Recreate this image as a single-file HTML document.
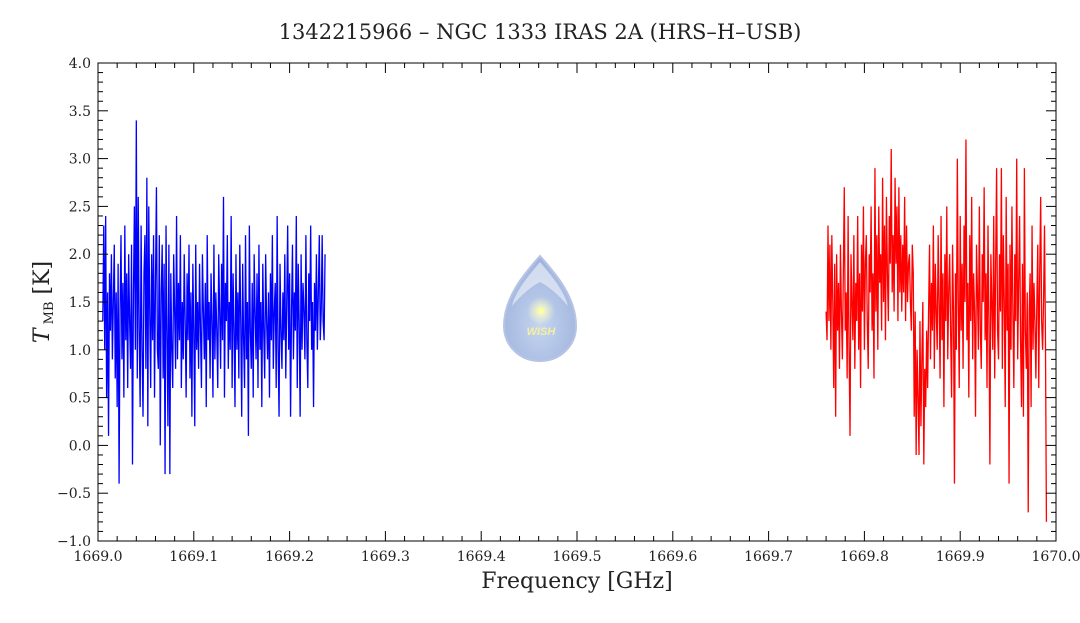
<!DOCTYPE html>
<html><head><meta charset="utf-8"><style>
body{margin:0;background:#fff;}
svg text{font-family:"DejaVu Serif","Liberation Serif",serif;fill:#222;}
</style></head><body>
<svg id="chart" width="1080" height="618" viewBox="0 0 1080 618">
<defs>
<radialGradient id="dg" cx="0.5" cy="0.65" r="0.6">
<stop offset="0" stop-color="#c5d5f0"/><stop offset="1" stop-color="#9fb3dc"/></radialGradient>
<radialGradient id="sg" cx="0.5" cy="0.5" r="0.5">
<stop offset="0" stop-color="#ffffc0"/><stop offset="1" stop-color="#ffffc0" stop-opacity="0"/></radialGradient>
</defs>
<text x="540" y="39" text-anchor="middle" font-size="21">1342215966 – NGC 1333 IRAS 2A (HRS–H–USB)</text>
<g>
<path d="M540 256 C526 272 504 296 504 326 C504 346 520 361 540 361 C560 361 576 346 576 326 C576 296 554 272 540 256 Z" fill="url(#dg)" stroke="#b8c4e4" stroke-width="2"/>
<path d="M540 262 C530 274 516 290 512 306 C522 294 532 286 540 282 C548 286 558 294 568 306 C564 290 550 274 540 262Z" fill="#ffffff" opacity="0.5"/>
<circle cx="541" cy="311" r="14" fill="url(#sg)"/>
<text x="541" y="316" text-anchor="middle" font-size="14" fill="#ffff90" style="fill:#ffff90">✶</text>
<text x="541" y="335" text-anchor="middle" font-size="11" font-style="italic" font-weight="bold" style="fill:#f4f0a0;font-family:'Liberation Sans',sans-serif">WISH</text>
</g>
<g id="marks"></g>
<rect x="98" y="63" width="958" height="478" fill="none" stroke="#000" stroke-width="1"/>
<g id="axes"></g>
<text x="577" y="588" text-anchor="middle" font-size="22">Frequency [GHz]</text>
<text transform="translate(49,302) rotate(-90)" text-anchor="middle" font-size="22"><tspan font-style="italic">T</tspan><tspan font-size="13" dy="4"> MB</tspan><tspan dy="-4"> [K]</tspan></text>
</svg>
<script>
const xTicks=["1669.0","1669.1","1669.2","1669.3","1669.4","1669.5","1669.6","1669.7","1669.8","1669.9","1670.0"];
const yTicks=["−1.0","−0.5","0.0","0.5","1.0","1.5","2.0","2.5","3.0","3.5","4.0"];
const blueStart=1669.005, blueStep=0.001;
const blueValues=[1.3,2.3,1.0,2.4,0.5,1.6,0.1,1.8,1.2,2.0,0.9,1.5,2.1,0.7,1.6,0.4,1.9,-0.4,1.4,2.2,
0.9,1.7,0.5,2.3,1.1,1.8,0.6,2.0,1.3,0.8,2.1,-0.2,1.6,2.5,1.0,3.4,0.7,2.6,1.2,0.4,
2.3,1.0,0.3,1.8,2.2,0.8,2.8,0.2,2.5,1.4,0.6,2.0,1.1,2.2,0.5,1.7,2.7,1.0,0.8,2.2,
0.0,1.6,2.1,0.7,1.9,-0.3,2.3,1.2,0.2,2.1,-0.3,1.8,1.0,0.6,2.0,1.4,0.8,2.4,0.9,1.7,
1.1,2.2,0.6,1.5,0.9,2.0,1.3,0.5,1.8,1.1,2.1,0.7,1.6,0.3,1.9,1.2,0.2,2.1,1.0,1.5,
0.8,1.9,1.2,0.6,2.0,1.4,0.9,1.7,0.4,2.2,1.1,1.5,0.7,1.8,1.3,0.5,2.1,0.9,1.6,1.2,
0.6,2.0,1.4,0.8,1.9,1.1,2.6,0.5,1.7,1.3,2.2,0.8,1.5,1.0,2.4,0.6,1.8,1.2,0.4,2.0,
1.0,1.6,0.7,2.1,1.3,0.3,1.9,1.1,0.6,2.2,0.9,1.5,0.1,2.3,1.2,0.8,1.7,0.5,2.0,1.4,
0.9,1.8,0.6,2.1,1.0,1.5,0.4,1.9,1.2,0.7,2.0,1.3,0.9,1.6,0.5,1.8,1.1,2.2,0.8,1.4,
1.7,0.6,2.4,1.0,0.3,1.9,1.2,0.8,1.6,1.1,2.0,0.7,1.5,2.3,1.0,1.8,0.3,1.4,2.1,0.9,
1.6,1.2,2.4,0.6,1.9,1.3,0.3,2.0,1.0,1.7,1.4,0.9,2.2,1.1,0.6,1.8,1.3,2.3,1.0,1.5,
0.4,1.7,1.2,2.0,1.0,1.6,2.2,1.1,1.4,2.2,1.3,1.1,2.0];
const redStart=1669.760, redStep=0.001;
const redValues=[1.4,1.1,2.3,1.3,2.1,1.0,2.2,1.5,0.6,1.9,0.3,2.0,1.2,1.7,0.8,2.1,1.4,0.9,1.8,2.7,
1.2,1.6,0.7,2.4,1.0,0.1,2.0,1.5,1.1,2.2,0.8,1.7,1.3,2.4,1.0,1.8,0.6,2.1,1.4,2.5,
1.0,1.9,2.2,1.3,0.8,2.0,1.6,2.5,1.2,1.8,0.7,2.9,1.4,2.2,1.0,2.5,1.7,2.0,1.2,2.8,
1.5,2.3,1.1,2.6,1.8,1.3,2.4,1.9,3.1,1.6,2.2,1.4,2.8,1.9,2.5,1.3,2.7,1.6,2.2,1.4,
2.1,1.6,2.6,1.3,2.3,1.5,1.9,
2.0,1.5,1.2,2.1,1.8,0.3,1.4,-0.1,1.0,0.5,-0.1,1.3,0.2,0.9,1.5,-0.2,0.8,0.4,1.2,0.6,
1.4,2.1,0.9,1.7,1.2,2.3,0.8,1.9,1.4,1.0,2.2,1.5,0.7,2.4,1.1,1.8,0.4,2.0,1.3,2.5,
0.9,1.6,2.0,1.2,0.5,2.1,1.4,-0.4,1.8,1.0,3.0,1.5,0.6,2.4,1.2,1.9,0.8,2.3,1.5,3.2,
1.1,1.7,0.5,2.2,1.3,2.6,0.9,1.8,1.4,0.3,2.1,1.6,1.0,2.5,1.2,0.8,2.0,1.5,2.7,1.1,
1.8,0.6,2.3,1.3,-0.2,2.0,1.5,1.0,2.4,0.7,1.9,2.9,1.2,0.9,2.0,1.4,2.9,0.8,2.2,1.5,
0.4,2.6,1.2,1.9,-0.4,2.1,1.0,2.5,1.4,0.6,2.0,1.3,3.0,0.9,1.7,2.4,1.1,0.4,1.9,0.3,
2.9,1.2,0.8,1.6,-0.7,1.4,1.8,0.4,2.3,1.0,1.7,1.3,0.7,1.5,2.1,0.6,1.8,2.6,1.3,1.0,
1.5,2.3,1.1,-0.8];

const NS="http://www.w3.org/2000/svg";
const X0=98,X1=1056,Y0=541,Y1=63;
const xMin=1669.0,xMax=1670.0,yMin=-1.0,yMax=4.0;
function sx(v){return X0+(v-xMin)/(xMax-xMin)*(X1-X0);}
function sy(v){return Y0-(v-yMin)/(yMax-yMin)*(Y0-Y1);}
function mk(t,a,p){const e=document.createElementNS(NS,t);for(const k in a)e.setAttribute(k,a[k]);p.appendChild(e);return e;}
const marks=document.getElementById('marks'),axes=document.getElementById('axes');
function series(start,step,vals,color,name){
  let d="";
  vals.forEach((v,i)=>{d+=(i?"L":"M")+sx(start+i*step).toFixed(2)+" "+sy(v).toFixed(2);});
  const p=mk('path',{d:d,fill:'none',stroke:color,'stroke-width':1.3},marks);
  
  
}
series(blueStart,blueStep,blueValues,'#0000ff','series-lsb-blue');
series(redStart,redStep,redValues,'#ff0000','series-usb-red');
for(let i=0;i<=50;i++){
  const v=xMin+i*0.02, x=sx(v), major=i%5===0, L=major?10:5;
  mk('line',{x1:x,x2:x,y1:Y0,y2:Y0-L,stroke:'#000'},axes);
  mk('line',{x1:x,x2:x,y1:Y1,y2:Y1+L,stroke:'#000'},axes);
}
xTicks.forEach((t,i)=>{
  const el=mk('text',{x:sx(xMin+i*0.1),y:561,'text-anchor':'middle','font-size':14},axes);
  el.textContent=t;
  
  
});
for(let i=0;i<=50;i++){
  const v=yMin+i*0.1, y=sy(v), major=i%5===0, L=major?10:5;
  mk('line',{x1:X0,x2:X0+L,y1:y,y2:y,stroke:'#000'},axes);
  mk('line',{x1:X1,x2:X1-L,y1:y,y2:y,stroke:'#000'},axes);
}
yTicks.forEach((t,i)=>{
  const el=mk('text',{x:91,y:sy(yMin+i*0.5)+5,'text-anchor':'end','font-size':14},axes);
  el.textContent=t;
  
  
});
</script>
</body></html>
